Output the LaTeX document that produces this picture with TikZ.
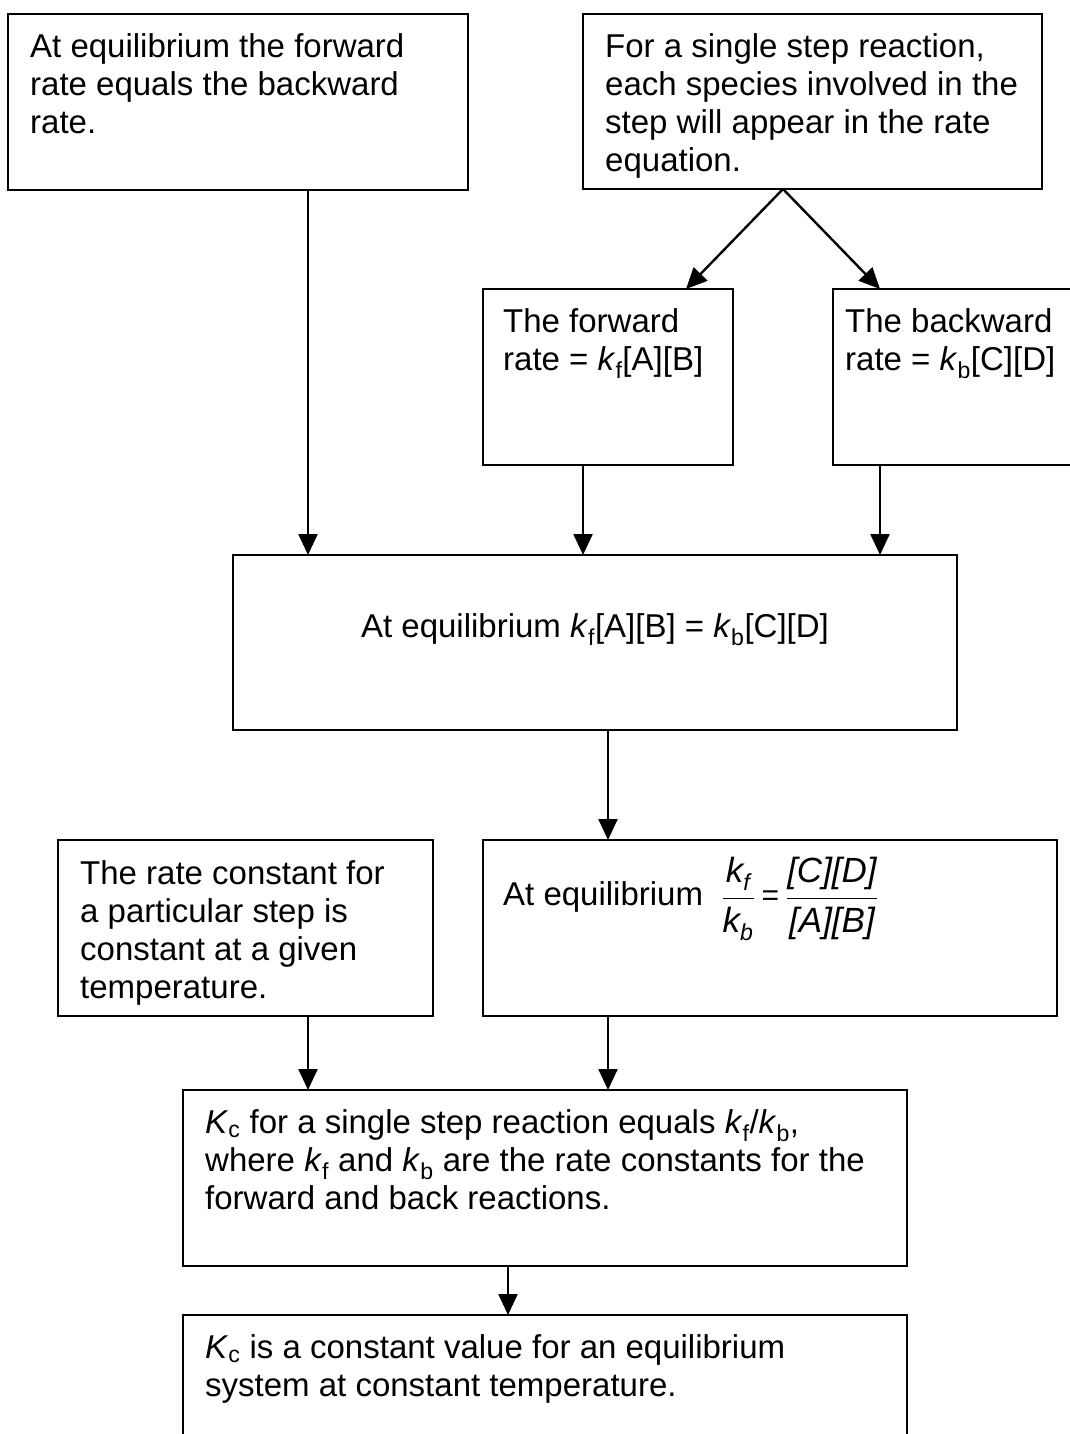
\documentclass[tikz,border=0pt]{standalone}
\usepackage{fontspec}
\setmainfont{Liberation Sans}
\usepackage{amsmath}
\usetikzlibrary{arrows.meta}
\newcommand{\fracfont}{\fontsize{35}{40}\selectfont}
\begin{document}
\begin{tikzpicture}[x=1pt,y=-1pt,
  box/.style={draw, line width=2.2pt, inner sep=0pt, outer sep=0pt, anchor=north west},
  txt/.style={font=\fontsize{33}{38}\selectfont, align=left, inner sep=0pt, anchor=north west},
  arr/.style={draw, line width=2.4pt, -{Triangle[length=21pt,width=19pt]}}]
\useasboundingbox (0,0) rectangle (1070,1434);
\fill[white] (0,0) rectangle (1070,1434);
\clip (0,0) rectangle (1070,1434);
% boxes
\node[box, minimum width=460pt, minimum height=176pt] (A) at (8,14) {};
\node[box, minimum width=459pt, minimum height=175pt] (B) at (583,14) {};
\node[box, minimum width=250pt, minimum height=176pt] (C) at (483,289) {};
\node[box, minimum width=250pt, minimum height=176pt] (D) at (833,289) {};
\node[box, minimum width=724pt, minimum height=175pt] (E) at (233,555) {};
\node[box, minimum width=375pt, minimum height=176pt] (F) at (58,840) {};
\node[box, minimum width=574pt, minimum height=176pt] (G) at (483,840) {};
\node[box, minimum width=724pt, minimum height=176pt] (H) at (183,1090) {};
\node[box, minimum width=724pt, minimum height=176pt] (I) at (183,1315) {};
% texts
\node[txt] (tA) at (30,30.4) {\strut At equilibrium the forward\\rate equals the backward\\rate.};
\node[txt] (tB) at (605,30.4) {\strut For a single step reaction,\\each species involved in the\\step will appear in the rate\\equation.};
\node[txt] (tC) at (503,305.4) {\strut The forward\\rate = \textit{k}\textsubscript{f}[A][B]};
\node[txt] (tD) at (845,305.4) {\strut The backward\\rate = \textit{k}\textsubscript{b}[C][D]};
\node[txt, anchor=base] (tE) at (595,637) {At equilibrium \textit{k}\textsubscript{f}[A][B] = \textit{k}\textsubscript{b}[C][D]};
\node[txt] (tF) at (80,857.4) {\strut The rate constant for\\a particular step is\\constant at a given\\temperature.};
\node[txt, anchor=base west] (tG) at (503,905) {At equilibrium\ \ $\displaystyle\frac{\textit{\fracfont k}_{\textit{f}}\rule[-13pt]{0pt}{13pt}}{\rule{0pt}{30pt}\textit{\fracfont k}_{\textit{b}}}\;\textnormal{\fontsize{30}{30}\selectfont =}\;\frac{\textit{\fracfont [C][D]}\rule[-13pt]{0pt}{13pt}}{\rule{0pt}{30pt}\textit{\fracfont [A][B]}}$};
\node[txt] (tH) at (205,1106.4) {\strut\textit{K}\textsubscript{c} for a single step reaction equals \textit{k}\textsubscript{f}/\textit{k}\textsubscript{b},\\where \textit{k}\textsubscript{f} and \textit{k}\textsubscript{b} are the rate constants for the\\forward and back reactions.};
\node[txt] (tI) at (205,1331.4) {\strut\textit{K}\textsubscript{c} is a constant value for an equilibrium\\system at constant temperature.};
% x positions
\coordinate (x308) at (308,0);
\coordinate (x583) at (583,0);
\coordinate (x880) at (880,0);
\coordinate (x608) at (608,0);
\coordinate (x508) at (508,0);
\coordinate (x783) at (783,0);
\coordinate (x686) at (686,0);
% connectors
\draw[arr] (A.south -| x308) -- (E.north -| x308);
\draw[arr] (B.south -| x783) -- (C.north -| x686);
\draw[arr] (B.south -| x783) -- (D.north -| x880);
\draw[arr] (C.south -| x583) -- (E.north -| x583);
\draw[arr] (D.south -| x880) -- (E.north -| x880);
\draw[arr] (E.south -| x608) -- (G.north -| x608);
\draw[arr] (F.south -| x308) -- (H.north -| x308);
\draw[arr] (G.south -| x608) -- (H.north -| x608);
\draw[arr] (H.south -| x508) -- (I.north -| x508);
\end{tikzpicture}
\end{document}
